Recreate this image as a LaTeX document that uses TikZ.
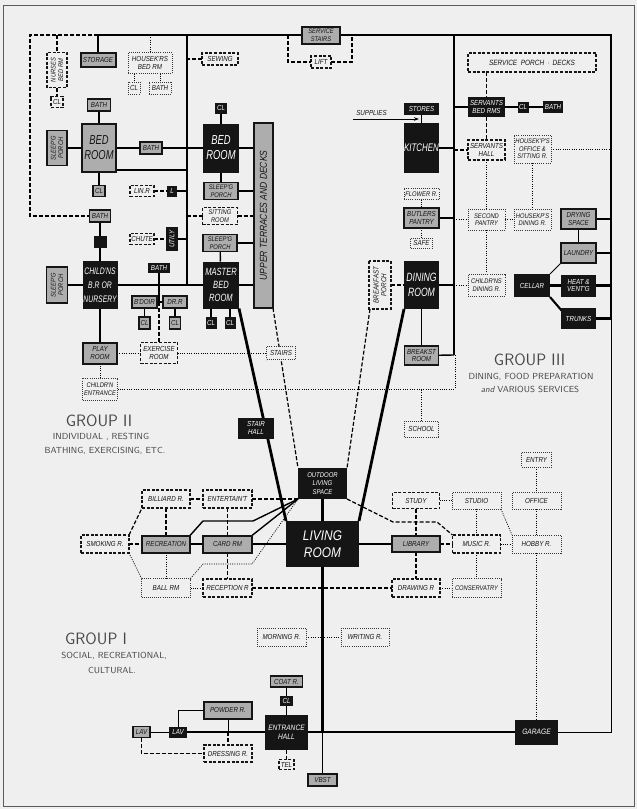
\documentclass[tikz,border=0pt]{standalone}
\usepackage{fontspec}
\newfontfamily\lblfam[FakeStretch=0.85]{Liberation Sans}
\newfontfamily\lblnar[FakeStretch=0.72]{Liberation Sans}
\usetikzlibrary{arrows.meta}
\definecolor{bgc}{HTML}{EFEFEF}
\definecolor{ink}{HTML}{151515}
\definecolor{gfill}{HTML}{ADADAD}
\definecolor{head}{HTML}{474747}
\pgfdeclarelayer{bglayer}
\pgfdeclarelayer{edgelayer}
\pgfsetlayers{bglayer,edgelayer,main}
\newcommand\lblS{\lblfam\itshape\fontsize{7.3}{7.9}\selectfont}
\newcommand\lblSS{\lblfam\itshape\fontsize{6.8}{7.4}\selectfont}
\newcommand\lblM{\lblfam\itshape\fontsize{7.8}{9}\selectfont}
\newcommand\lblL{\lblnar\itshape\fontsize{13}{15}\selectfont}
\newcommand\lblMa{\lblnar\itshape\fontsize{10.5}{13}\selectfont}
\newcommand\lblCh{\lblnar\itshape\fontsize{9.5}{14}\selectfont}
\newcommand\lblXL{\lblfam\itshape\fontsize{14}{17}\selectfont}
\tikzset{
  sz/.style 2 args={minimum width=#1pt, minimum height=#2pt},
  base/.style={rectangle, inner sep=0pt, outer sep=0pt, align=center, font=\lblS},
  blk/.style={base, fill=ink, text=white},
  gry/.style={base, fill=gfill, draw=ink, line width=1.2pt},
  gryk/.style={gry, line width=2pt},
  dsh/.style={base, fill=bgc, draw=ink, line width=1.1pt, dash pattern=on 3pt off 1.6pt},
  dot/.style={base, fill=bgc, draw=ink!85, line width=0.65pt, dash pattern=on 1pt off 1.1pt},
  thk/.style={line width=2.8pt},
  tk2/.style={line width=2.1pt},
  med/.style={line width=1.4pt},
  thn/.style={line width=0.9pt},
  dl/.style={line width=1.2pt, dash pattern=on 4pt off 2pt},
  dt/.style={line width=0.7pt, dash pattern=on 1pt off 1.3pt},
  hd/.style={font=\sffamily\fontsize{16.5}{18}\selectfont, text=head, inner sep=0pt},
  hs/.style={font=\sffamily\fontsize{8.8}{10}\selectfont, text=head, inner sep=0pt},
}
\begin{document}
\begin{tikzpicture}[x=1pt,y=-1pt,color=ink]
\useasboundingbox (0,0) rectangle (637,809);
\begin{pgfonlayer}{bglayer}
\fill[bgc] (0,0) rectangle (637,809);
\draw[ink!70, line width=0.8pt] (3,5) rectangle (634,806);
\end{pgfonlayer}

% ---------- Group II nodes ----------
\node[dsh, rotate=90, sz={35}{20}, font=\lblSS] (nurses) at (57,70) {NURSES\\BED RM};
\node[dsh, sz={12}{11}] (cl1) at (57,102) {CL};
\node[gryk, sz={35}{14}] (storage) at (98,60) {STORAGE};
\node[dot, sz={44}{21}] (hkbed) at (150,63) {HOUSEK'RS\\BED RM};
\node[dot, sz={12}{12}] (cl2) at (134,88) {CL};
\node[dot, sz={22}{12}] (bath3) at (160,88) {BATH};
\node[dsh, sz={36}{12}] (sewing) at (220,59) {SEWING};
\node[gryk, sz={38}{17}, font=\lblSS] (sstairs) at (321,35) {SERVICE\\STAIRS};
\node[dsh, sz={20}{12}] (lift) at (321,62) {LIFT};
\node[gry, sz={23}{12}] (bath1) at (99,105) {BATH};
\node[gryk, sz={34}{48}, font=\lblL] (bed1) at (99,148) {BED\\ROOM};
\node[gry, rotate=90, sz={35}{20}, font=\lblSS] (sleep1) at (57,148) {SLEEP'G\\PORCH};
\node[gry, sz={12}{11}] (cl3) at (99,191) {CL};
\node[gry, sz={22}{12}] (bath4) at (151,148) {BATH};
\node[dsh, sz={24}{11}] (linr) at (142,191) {LIN.R};
\node[blk, sz={10}{11}] (lbox) at (172,191) {L};
\node[blk, sz={12}{11}] (cl4) at (221,108) {CL};
\node[blk, sz={36}{49}, font=\lblL] (bed2) at (221,148) {BED\\ROOM};
\node[gry, sz={34}{17}, font=\lblSS] (sleep2) at (221,191) {SLEEP'G\\PORCH};
\node[gry, rotate=90, sz={185}{19}, font=\lblfam\itshape\fontsize{10}{12}\selectfont] (upper) at (263.5,215.5) {UPPER TERRACES AND DECKS};
\node[dsh, sz={35}{17}, font=\lblSS] (sitting) at (220,216) {SITTING\\ROOM};
\node[gry, sz={34}{17}, font=\lblSS] (sleep3) at (220,243) {SLEEP'G\\PORCH};
\node[blk, sz={36}{47}, font=\lblMa] (master) at (221,285) {MASTER\\BED\\ROOM};
\node[blk, sz={11}{12}] (cl5) at (211,323) {CL};
\node[blk, sz={11}{12}] (cl6) at (230,323) {CL};
\node[blk, rotate=90, sz={24}{12}] (utily) at (172,239) {UTILY};
\node[dsh, sz={24}{11}] (chute) at (142,239) {CHUTE};
\node[gry, sz={21}{12}] (bath2) at (100,216) {BATH};
\node[blk, sz={13}{12}] (sq) at (100,242) {};
\node[blk, sz={35}{48}, font=\lblCh] (child) at (100,285) {CHILD'NS\\B.R OR\\NURSERY};
\node[gry, rotate=90, sz={36}{21}, font=\lblSS] (sleep4) at (57,285) {SLEEP'G\\PORCH};
\node[blk, sz={22}{10}] (bath5) at (159,268) {BATH};
\node[gry, sz={25}{12}] (bdoir) at (144.5,302) {B'DOIR};
\node[gry, sz={24}{12}] (drr) at (175,302) {DR.R};
\node[gry, sz={11}{12}] (cl7) at (144.5,323) {CL};
\node[gry, sz={11}{12}] (cl8) at (175,323) {CL};
\node[gryk, sz={34}{21}] (play) at (100,353) {PLAY\\ROOM};
\node[dsh, sz={37}{21}] (exer) at (159,353) {EXERCISE\\ROOM};
\node[dot, sz={35}{22}, font=\lblSS] (chent) at (100,389) {CHILDR'N\\ENTRANCE};
\node[dot, sz={29}{13}] (stairs) at (281,353) {STAIRS};

% ---------- Group III nodes ----------
\node[dsh, sz={128}{19}, font=\lblfam\itshape\fontsize{7.6}{8}\selectfont] (sporch) at (532,62.5) {SERVICE \ PORCH \,$\cdot$\, DECKS};
\node[blk, sz={37}{20}] (sbr) at (486.5,107) {SERVANTS\\BED RMS};
\node[blk, sz={11}{11}] (cl9) at (523,107) {CL};
\node[blk, sz={20}{12}] (bath6) at (553,107) {BATH};
\node[dsh, sz={37}{20}] (shall) at (486.5,150) {SERVANTS\\HALL};
\node[dot, sz={37}{28}, font=\lblSS] (hkoff) at (532.5,149) {HOUSEK'P'S\\OFFICE \&\\SITTING R.};
\node[dot, sz={37}{21}, font=\lblSS] (span) at (486.5,219.5) {SECOND\\PANTRY};
\node[dot, sz={37}{21}, font=\lblSS] (hkdin) at (532.5,219.5) {HOUSEKP'S\\DINING R.};
\node[dot, sz={37}{22}, font=\lblSS] (chdin) at (486.5,285) {CHILDR'NS\\DINING R.};
\node[gryk, sz={35}{20}] (drying) at (578.5,219) {DRYING\\SPACE};
\node[gryk, sz={35}{20}] (laundry) at (578.5,253) {LAUNDRY};
\node[blk, sz={36}{23}] (cellar) at (532,285.5) {CELLAR};
\node[blk, sz={35}{22}] (heat) at (578.5,285.5) {HEAT \&\\VENT'G};
\node[blk, sz={35}{21}] (trunks) at (578.5,318.5) {TRUNKS};
\node[blk, sz={35}{12}] (stores) at (421.5,109) {STORES};
\node[blk, sz={35}{50}, font=\lblnar\itshape\fontsize{11}{13}\selectfont] (kitchen) at (421.5,148) {KITCHEN};
\node[base] (supplies) at (371.5,113) {SUPPLIES};
\node[dot, sz={35}{11}, font=\lblSS] (flower) at (421.5,194) {FLOWER R.};
\node[gryk, sz={35}{20}] (butler) at (421.5,218) {BUTLERS\\PANTRY};
\node[dot, sz={22}{10}] (safe) at (421.5,243) {SAFE};
\node[blk, sz={35}{48}, font=\lblnar\itshape\fontsize{12}{15}\selectfont] (dining) at (421.5,285) {DINING\\ROOM};
\node[dsh, rotate=90, sz={48}{22}] (bporch) at (380,285) {BREAKFAST\\PORCH};
\node[gry, sz={34}{19}] (breakst) at (421.5,355.5) {BREAKST\\ROOM};
\node[dot, sz={34}{16}] (school) at (421.5,429) {SCHOOL};

% ---------- centre ----------
\node[blk, sz={36}{21}] (stairhall) at (256,428) {STAIR\\HALL};
\node[blk, sz={49}{31}, font=\lblfam\itshape\fontsize{7}{8.4}\selectfont] (outdoor) at (322.5,483.5) {OUTDOOR\\LIVING\\SPACE};
\node[blk, sz={73}{46}, font=\lblXL] (living) at (322.5,544) {LIVING\\ROOM};

% ---------- Group I nodes ----------
\node[gryk, sz={48}{16}] (library) at (416,544) {LIBRARY};
\node[dsh, sz={47}{16}] (study) at (416,500.5) {STUDY};
\node[dsh, sz={48}{18}] (drawing) at (416,588) {DRAWING R};
\node[dot, sz={49}{17}] (studio) at (476.5,500.5) {STUDIO};
\node[dsh, sz={48}{18}] (music) at (476.5,544) {MUSIC R.};
\node[dot, sz={49}{19}, font=\lblSS] (conserv) at (476.5,588) {CONSERVATRY};
\node[dot, sz={49}{17}] (office) at (536.5,500.5) {OFFICE};
\node[dot, sz={30}{15}] (entry) at (536.5,459.5) {ENTRY};
\node[dot, sz={49}{18}] (hobby) at (536.5,544) {HOBBY R.};
\node[blk, sz={43}{25}, font=\lblM] (garage) at (536.5,732) {GARAGE};
\node[gryk, sz={49}{17}] (card) at (227.5,544) {CARD RM};
\node[gryk, sz={48}{17}] (recr) at (166,544) {RECREATION};
\node[dsh, sz={48}{18}] (smoking) at (105,544) {SMOKING R.};
\node[dsh, sz={48}{18}] (billiard) at (166,499) {BILLIARD R.};
\node[dsh, sz={49}{18}] (entert) at (227.5,499) {ENTERTAIN'T};
\node[dot, sz={49}{19}] (ball) at (166,588) {BALL RM};
\node[dsh, sz={49}{18}] (recep) at (227.5,588) {RECEPTION R};
\node[dot, sz={49}{18}] (morning) at (281.5,637) {MORNING R.};
\node[dot, sz={48}{18}] (writing) at (365,637) {WRITING R.};
\node[gry, sz={32}{11}] (coat) at (286.5,681.5) {COAT R.};
\node[blk, sz={13}{10}] (cl10) at (286.5,700.5) {CL};
\node[blk, sz={43}{35}, font=\lblM] (entrance) at (286.5,732) {ENTRANCE\\HALL};
\node[dsh, sz={15}{10}] (tel) at (286.5,764.5) {TEL};
\node[gry, sz={29}{12}] (vbst) at (322.5,780) {VBST};
\node[gryk, sz={48}{17}] (powder) at (228,710) {POWDER R.};
\node[blk, sz={18}{11}] (lavb) at (178,732) {LAV};
\node[gry, sz={17}{11}] (lavg) at (141.5,732) {LAV};
\node[dsh, sz={48}{17}] (dressing) at (228,753.5) {DRESSING R.};

% ---------- headings ----------
\node[hd] (g2) at (99,421) {GROUP II};
\node[hs] (g2a) at (101,437) {INDIVIDUAL , RESTING};
\node[hs] (g2b) at (105,451) {BATHING, EXERCISING, ETC.};
\node[hd] (g1) at (96,639) {GROUP I};
\node[hs] (g1a) at (114,656) {SOCIAL, RECREATIONAL,};
\node[hs] (g1b) at (112,670) {CULTURAL.};
\node[hd] (g3) at (529.5,360) {GROUP III};
\node[hs] (g3a) at (531,377) {DINING, FOOD PREPARATION};
\node[hs] (g3b) at (530,389) {{\itshape and} VARIOUS SERVICES};

% ---------- connectors ----------
\begin{pgfonlayer}{edgelayer}
\coordinate (t0) at (30,35);
\coordinate (t1) at (98,35);
\coordinate (t2) at (30,216);
\coordinate (fTL) at (454,35);
\coordinate (fTR) at (611,35);
\coordinate (fR1) at (611,320);
\coordinate (fBR) at (611,732);
\coordinate (fL) at (454,355);
\coordinate (v0) at (187,35);
\coordinate (v1) at (187,148);
\coordinate (v2) at (187,285);
\coordinate (j5) at (187,170);
% top
\draw[dl] (t1) -- (t0) -- (t2) -- (bath2);
\draw[med] (storage) -- (t1) -- (sstairs);
\draw[med] (sstairs) -- (fTL);
\draw[tk2] (fL) -- (fTL) -- (fTR) -- (fR1);
\draw[thn] (fR1) -- (fBR) -- (garage);
\draw[med] (breakst) -- (fL);
\draw[dl] (57,35) -- (nurses);
\draw[dl] (nurses) -- (cl1);
\draw[dt] (150,35) -- (hkbed);
\draw[dt] (hkbed.south -| cl2) -- (cl2);
\draw[dt] (hkbed.south -| bath3) -- (bath3);
\draw[dl] (sewing) -- (187,59);
\draw[dl] (288,35) -- (288,62) -- (lift);
\draw[dl] (lift) -- (352,62) -- (352,35);
\draw[med] (v0) -- (v1);
\draw[tk2] (v1) -- (v2);
% bed room group
\draw[med] (bath1) -- (bed1);
\draw[med] (sleep1) -- (bed1);
\draw[med] (bed1) -- (cl3);
\draw[med] (bed1) -- (bath4) -- (v1);
\draw[med] (j5 -| bed1.east) -- (j5);
\draw[dl] (linr) -- (lbox);
\draw[med] (lbox) -- (187,191);
\draw[med] (v1) -- (bed2);
\draw[med] (cl4) -- (bed2);
\draw[med] (bed2) -- (sleep2);
\draw[med] (bed2) -- (bed2 -| upper);
\draw[med] (sleep2) -- (sleep2 -| upper);
\draw[dl] (187,216) -- (sitting);
\draw[dl] (sitting) -- (sitting -| upper);
\draw[med] (sleep3) -- (sleep3 -| upper);
\draw[med] (sleep3) -- (master);
\draw[med] (master) -- (master -| upper);
\draw[med] (cl5) -- (cl5 |- master.south);
\draw[med] (cl6) -- (cl6 |- master.south);
\draw[med] (187,239) -- (utily);
\draw[dl] (chute) -- (utily);
\draw[med] (bath2) -- (sq) -- (child);
\draw[med] (sleep4) -- (child);
\draw[tk2] (child) -- (master);
\draw[med] (bath5) -- (159,302);
\draw[med] (bdoir) -- (drr);
\draw[dl] (159,302) -- (exer);
\draw[med] (bdoir) -- (cl7);
\draw[med] (drr) -- (cl8);
\draw[med] (child) -- (play);
\draw[dt] (play) -- (exer);
\draw[dt] (play) -- (chent);
\draw[dt] (exer) -- (stairs);
\draw[dt] (chent) -- (455,389) -- (455,355);
\draw[dt] (school) -- (421.5,389);
% service wing
\draw[dl] (sporch.south -| sbr) -- (sbr);
\draw[tk2] (454,107) -- (sbr);
\draw[med] (sbr) -- (cl9) -- (bath6);
\draw[dl] (sbr) -- (shall);
\draw[dl] (454,150) -- (shall);
\draw[dt] (hkoff) -- (611,149);
\draw[dt] (shall) -- (span);
\draw[dt] (454,219.5) -- (span);
\draw[dt] (span) -- (hkdin);
\draw[dt] (hkoff) -- (hkdin);
\draw[dt] (span) -- (chdin);
\draw[dt] (454,285) -- (chdin);
\draw[med] (drying) -- (611,219);
\draw[thn] (drying) -- (laundry);
\draw[med] (laundry) -- (611,253);
\draw[tk2] (cellar) -- (heat) -- (611,285.5);
\draw[tk2] (cellar.south east) -- (562,311);
\draw[tk2] (trunks) -- (611,318.5);
\draw[thn] (cellar.north east) -- (laundry.south west);
\draw[med] (stores) -- (kitchen);
\draw[tk2] (kitchen) -- (454,148);
\draw[thn, -{Stealth[length=5pt,width=3.5pt]}] (353,119) -- (419,119);
\draw[dt] (flower) -- (butler);
\draw[dt] (butler) -- (safe);
\draw[med] (butler) -- (454,218);
\draw[tk2] (dining) -- (454,285);
\draw[dl] (bporch) -- (dining);
\draw[med] (dining) -- (breakst);
% main diagonals
\draw[thk] (master.south east) -- (living.north west);
\draw[thk] (dining.south west) -- (living.north east);
\draw[dl] (273,308) -- (outdoor.north west);
\draw[dl] (370,309) -- (outdoor.north east);
\draw[thk] (outdoor) -- (living);
\draw[med] (living) -- (library);
\draw[thk] (living) -- (322.5,732);
\draw[thn] (322.5,732) -- (vbst);
% entrance
\draw[thk] (lavb) -- (entrance);
\draw[thk] (entrance) -- (garage);
\draw[thn] (lavg) -- (lavb);
\draw[thn] (lavb) -- (178,710) -- (powder);
\draw[thn] (powder) -- (228,732);
\draw[dl] (228,732) -- (dressing);
\draw[dl] (lavg) -- (141.5,753.5) -- (dressing);
\draw[thn] (coat) -- (cl10) -- (entrance);
\draw[dl] (entrance) -- (tel);
\draw[dt] (morning) -- (writing);
% group I left
\draw[dl] (smoking) -- (recr);
\draw[tk2] (recr) -- (card);
\draw[med] (card) -- (living);
\draw[dl] (billiard) -- (entert);
\draw[dl] (entert) -- (outdoor.south west);
\draw[dl] (smoking.north east) -- (billiard.south west);
\draw[dt] (smoking.south east) -- (ball.north west);
\draw[dl] (billiard) -- (recr);
\draw[dt] (recr) -- (ball);
\draw[dl] (entert) -- (card);
\draw[dl] (card) -- (recep);
\draw[dt] (ball) -- (recep);
\draw[dl] (recep) -- (drawing);
\draw[med] (recr.north east) -- (203,521) -- (253,521) -- (outdoor.south west);
\draw[med] (card.north east) -- (outdoor.south west);
\draw[dt] (ball.north east) -- (203,564) -- (252,564) -- (outdoor.south west);
% group I right
\draw[dl] (study) -- (library);
\draw[dl] (library) -- (drawing);
\draw[dt] (study) -- (studio);
\draw[dt] (studio) -- (music);
\draw[dl] (library) -- (music);
\draw[dt] (music) -- (conserv);
\draw[dt] (drawing) -- (conserv);
\draw[dt] (music) -- (hobby);
\draw[dt] (studio.south east) -- (hobby.north west);
\draw[dt] (entry) -- (office);
\draw[dt] (office) -- (hobby);
\draw[dt] (hobby) -- (garage);
\draw[dl] (outdoor.south east) -- (393,522) -- (437,522) -- (music.north west);
\end{pgfonlayer}
\end{tikzpicture}
\end{document}
